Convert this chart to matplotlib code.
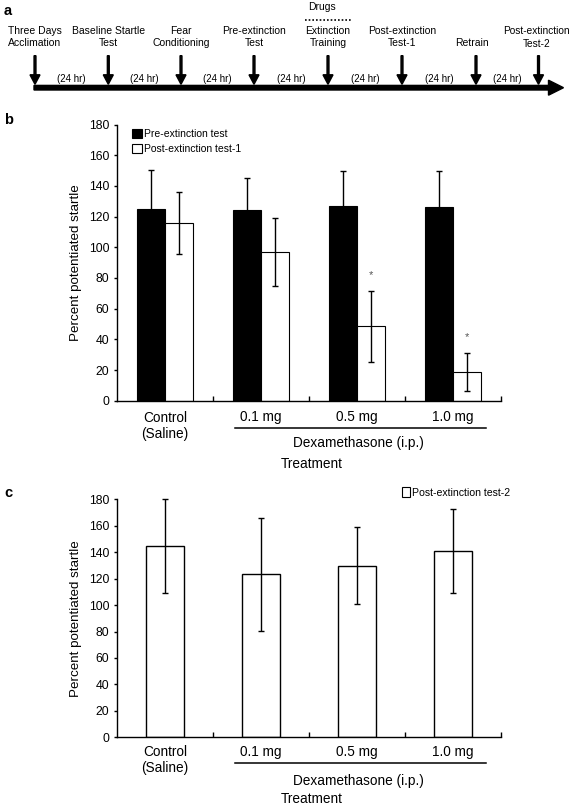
import matplotlib
matplotlib.use('Agg')
import matplotlib.pyplot as plt
import matplotlib.transforms as mtransforms
from matplotlib.patches import Patch
import numpy as np

plt.rcParams['font.family'] = ['Liberation Sans', 'DejaVu Sans']

# timeline (panel a)
events = ['Three Days\nAcclimation', 'Baseline Startle\nTest', 'Fear\nConditioning',
          'Pre-extinction\nTest', 'Extinction\nTraining', 'Post-extinction\nTest-1',
          'Retrain', 'Post-extinction\nTest-2']
interval = '(24 hr)'
drug_event = 'Extinction\nTraining'

# bar data (panels b, c)
groups = ['Control\n(Saline)', '0.1 mg', '0.5 mg', '1.0 mg']
pre_mean = [125.2, 124.0, 127.1, 126.1]
pre_err = [25.2, 21.4, 22.4, 23.8]
post1_mean = [116.0, 96.9, 48.5, 18.9]
post1_err = [20.3, 22.0, 23.2, 12.4]
post1_sig = [False, False, True, True]
post2_mean = [144.9, 123.3, 129.8, 141.1]
post2_err = [35.5, 42.8, 29.0, 31.7]

W, H = 572, 806
fig = plt.figure(figsize=(W / 100, H / 100), dpi=100)


def box(left, top, right, bottom):
    return [left / W, 1 - bottom / H, (right - left) / W, (bottom - top) / H]


# ---------- panel a ----------
axa = fig.add_axes([0, 1 - 110 / H, 1, 110 / H])
axa.set_xlim(0, W)
axa.set_ylim(110, 0)
axa.axis('off')
event_x = [35, 108.3, 181, 254, 328, 402, 476, 538.5]
axa.arrow(34, 87.7, 529.5, 0, width=4.6, head_width=15, head_length=15,
          length_includes_head=True, fc='black', ec='black')
for x, name in zip(event_x, events):
    axa.arrow(x, 55.7, 0, 28.6, width=1.9, head_width=10, head_length=9.5,
              length_includes_head=True, fc='black', ec='black')
    if name == events[-1]:
        axa.text(x - 2, 37.5, name, ha='center', va='center', fontsize=7.3,
                 linespacing=1.28)
    elif '\n' in name:
        axa.text(x, 37.5, name, ha='center', va='center', fontsize=7.5,
                 linespacing=1.25)
    else:
        axa.text(x - 4, 43.5, name, ha='center', va='center', fontsize=7.5)
    if name == drug_event:
        axa.text(x - 6, 7.5, 'Drugs', ha='center', va='center', fontsize=7.5)
        axa.plot([x - 23, x + 24], [19.5, 19.5], color='black', lw=1.2,
                 ls=(0, (1, 1.2)))
for x0, x1 in zip(event_x[:-1], event_x[1:]):
    axa.text((x0 + x1) / 2, 78.5, interval, ha='center', va='center',
             fontsize=7)
axa.text(4, 11, 'a', fontsize=10.5, fontweight='bold', va='center')


def below(ax, px):
    return (mtransforms.blended_transform_factory(ax.transData, ax.transAxes)
            + mtransforms.ScaledTranslation(0, -px / 100, fig.dpi_scale_trans))


def style_axes(ax, off):
    # off: pixel offsets below the x axis for (group label, dose label,
    # bracket line, drug label, axis title)
    x = np.arange(len(groups))
    ax.set_xlim(-0.5, len(groups) - 0.5)
    ax.set_ylim(0, 180)
    ax.set_yticks(np.arange(0, 181, 20))
    ax.set_xticks(x + 0.5)
    ax.set_xticklabels([])
    ax.tick_params(axis='x', direction='in', length=3.3, width=1)
    ax.tick_params(axis='y', direction='out', length=2.5, width=1, pad=3,
                   labelsize=8.8)
    for s in ['top', 'right']:
        ax.spines[s].set_visible(False)
    for s in ['left', 'bottom']:
        ax.spines[s].set_linewidth(1.0)
    ax.set_ylabel('Percent potentiated startle', fontsize=9.6, labelpad=5)
    ax.text(x[0], 0, groups[0], transform=below(ax, off[0]), ha='center',
            va='center', fontsize=9.8, linespacing=1.2)
    for i in x[1:]:
        ax.text(i, 0, groups[i], transform=below(ax, off[1]), ha='center',
                va='center', fontsize=9.8)
    ax.plot([0.729, 3.344], [0, 0], transform=below(ax, off[2]),
            color='black', lw=1.1, clip_on=False)
    ax.text(2.01, 0, 'Dexamethasone (i.p.)', transform=below(ax, off[3]),
            ha='center', va='center', fontsize=9.8)
    ax.text(1.53, 0, 'Treatment', transform=below(ax, off[4]), ha='center',
            va='center', fontsize=9.8)


x = np.arange(len(groups))
ekw = dict(elinewidth=1.0, capthick=1.0, capsize=2.2, ecolor='black')

# ---------- panel b ----------
axb = fig.add_axes(box(117, 124.5, 501, 400.7))
bw = 0.29
axb.bar(x - bw / 2, pre_mean, bw, color='black', edgecolor='black', lw=0.8,
        yerr=pre_err, error_kw=ekw, label='Pre-extinction test', zorder=2)
axb.bar(x + bw / 2, post1_mean, bw, color='white', edgecolor='black', lw=0.8,
        yerr=post1_err, error_kw=ekw, label='Post-extinction test-1', zorder=2)
for i, sig in enumerate(post1_sig):
    if sig:
        axb.text(x[i] + bw / 2, post1_mean[i] + post1_err[i] + 10, '*',
                 ha='center', va='center', fontsize=8, color='#555555')
style_axes(axb, (25.3, 16, 27.6, 42.5, 63.6))
axb.legend(loc='upper left', bbox_to_anchor=(0.039, 0.983), frameon=False,
           fontsize=7.5, handlelength=0.95, handleheight=0.95,
           handletextpad=0.25, labelspacing=0.45, borderpad=0,
           borderaxespad=0)
fig.text(4 / W, 1 - 120 / H, 'b', fontsize=10.5, fontweight='bold',
         va='center')

# ---------- panel c ----------
axc = fig.add_axes(box(117, 499.3, 501, 737.3))
bw2 = 0.4
bars = axc.bar(x, post2_mean, bw2, color='white', edgecolor='black', lw=1.0,
               yerr=post2_err, error_kw=ekw, zorder=2)
for part in bars.errorbar.lines:
    if part is None:
        continue
    for art in (part if isinstance(part, (tuple, list)) else [part]):
        art.set_clip_on(False)
style_axes(axc, (23, 14.4, 26, 44, 61.5))
axc.legend(handles=[Patch(facecolor='white', edgecolor='black', lw=0.8,
                          label='Post-extinction test-2')],
           loc='upper left', bbox_to_anchor=(0.742, 1.05), frameon=False,
           fontsize=7.6, handlelength=0.8, handleheight=0.95,
           handletextpad=0.2, borderpad=0, borderaxespad=0)
fig.text(4 / W, 1 - 493 / H, 'c', fontsize=10.5, fontweight='bold',
         va='center')

fig.savefig('out.png', dpi=100)
